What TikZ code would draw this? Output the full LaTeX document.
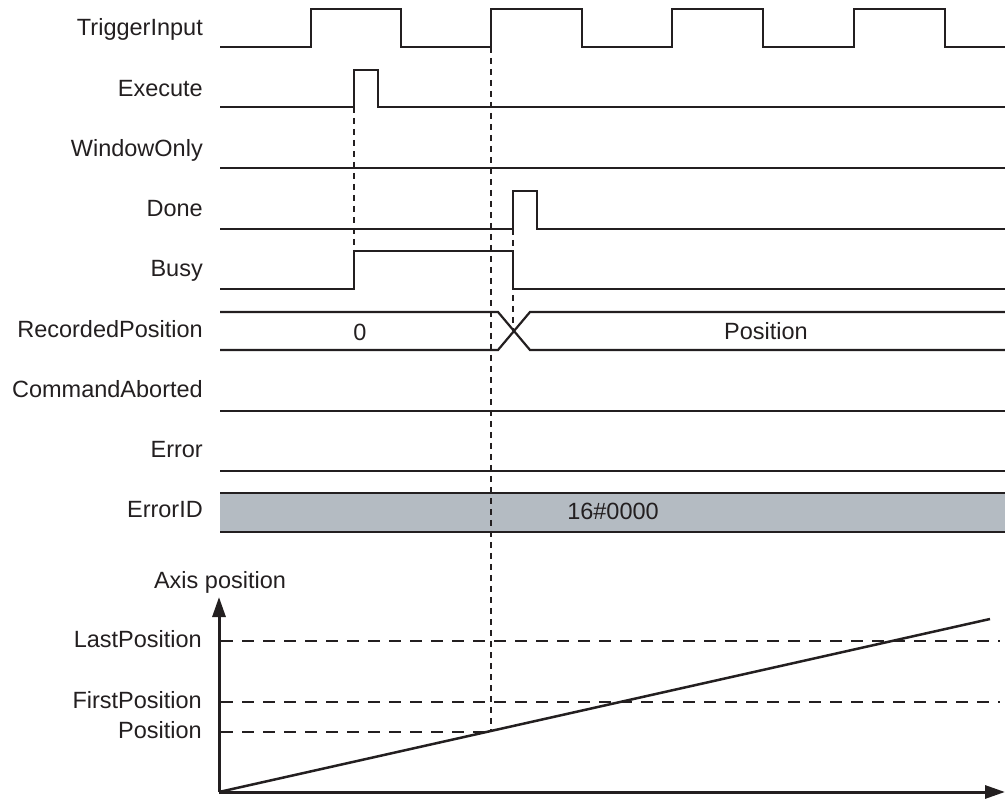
\documentclass[tikz,border=0pt]{standalone}
\usepackage{fontspec}
\setmainfont{Liberation Sans}
\usetikzlibrary{arrows.meta}
\definecolor{ink}{HTML}{231F20}
\definecolor{busgray}{HTML}{B4BBC2}
\begin{document}
\begin{tikzpicture}[x=1pt,y=-1pt,
  sig/.style={draw=ink, line width=2.2pt, line join=miter},
  lbl/.style={anchor=base east, text=ink, font=\fontsize{23.5}{28}\selectfont, inner sep=0pt},
  val/.style={anchor=base, text=ink, font=\fontsize{23.5}{28}\selectfont, inner sep=0pt},
  vdash/.style={draw=ink, line width=1.2pt, dash pattern=on 6pt off 5pt},
  hdash/.style={draw=ink, line width=1.2pt, dash pattern=on 12pt off 9pt},
  axisline/.style={draw=ink, line width=3pt, -{Triangle[length=20pt,width=13pt]}}]
\useasboundingbox (0,0) rectangle (1005,799);

% labels
\node[lbl] (lTrig) at (203,36) {TriggerInput};
\node[lbl] (lExec) at (203,97) {Execute};
\node[lbl] (lWin) at (203,157) {WindowOnly};
\node[lbl] (lDone) at (203,217) {Done};
\node[lbl] (lBusy) at (203,277) {Busy};
\node[lbl] (lRec) at (203,338) {RecordedPosition};
\node[lbl] (lCmd) at (203,398) {CommandAborted};
\node[lbl] (lErr) at (203,458) {Error};
\node[lbl] (lErrID) at (203,518) {ErrorID};

% ErrorID bus
\fill[busgray] (220,493) rectangle (1005,532);
\draw[sig] (220,493) -- (1005,493);
\draw[sig] (220,532) -- (1005,532);
\node[val] (vErrID) at (613,520) {16\#0000};

% waveforms
\draw[sig] (220,47) -| (311,9) -| (401,47) -| (491,9) -| (582,47) -| (672,9) -| (763,47) -| (854,9) -| (945,47) -- (1005,47);
\draw[sig] (220,107) -| (354,70) -| (378,107) -- (1005,107);
\draw[sig] (220,168) -- (1005,168);
\draw[sig] (220,229) -| (513,191) -| (537,229) -- (1005,229);
\draw[sig] (220,289) -| (354,251) -| (513,289) -- (1005,289);
\draw[sig] (220,312) -- (498,312) -- (530,350) -- (1005,350);
\draw[sig] (220,350) -- (498,350) -- (530,312) -- (1005,312);
\node[val] (v0) at (360,341) {0};
\node[val] (vPos) at (766,340) {Position};
\draw[sig] (220,411) -- (1005,411);
\draw[sig] (220,471) -- (1005,471);

% axis graph
\coordinate (O) at (219,792);
\coordinate (yEnd) at (219,597);
\coordinate (xEnd) at (1005,792);
\coordinate (rampEnd) at (990,619);
\coordinate (posPt) at (491,732);
\node[val] (axLbl) at (220,589) {Axis position};
\node[lbl] (lLast) at (202,648) {LastPosition};
\node[lbl] (lFirst) at (202,708) {FirstPosition};
\node[lbl] (lPos) at (202,738) {Position};
\draw[hdash] (221,641) -- (1000,641);
\draw[hdash] (221,702) -- (1000,702);
\draw[hdash] (221,732) -- (posPt);
\draw[axisline] (O) -- (yEnd);
\draw[axisline] (O) -- (xEnd);
\draw[draw=ink, line width=2.5pt] (O) -- (rampEnd);

% dashed markers
\coordinate (execRise) at (354,107);
\coordinate (busyRise) at (354,251);
\coordinate (trigRise) at (491,47);
\coordinate (doneRise) at (513,229);
\coordinate (crossMid) at (513,331);
\draw[vdash] (execRise) -- (busyRise);
\draw[vdash] (trigRise) -- (posPt);
\draw[vdash] (doneRise) -- (crossMid);
\end{tikzpicture}
\end{document}
